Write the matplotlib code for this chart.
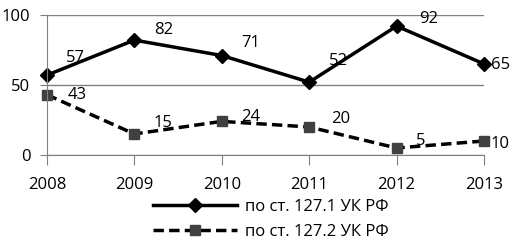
import matplotlib.pyplot as plt

years = ['2008', '2009', '2010', '2011', '2012', '2013']
s1 = [57, 82, 71, 52, 92, 65]
s2 = [43, 15, 24, 20, 5, 10]
names = ['по ст. 127.1 УК РФ', 'по ст. 127.2 УК РФ']

# label offsets in points (style only)
off1 = [(14, 12), (14, 7), (14, 9), (14, 15), (16, 5), (5, -1)]
off2 = [(15, 0), (14, 8), (14, 3), (16, 6), (14, 5), (5, -2)]

plt.rcParams['font.family'] = ['Open Sans', 'DejaVu Sans']

fig = plt.figure(figsize=(5.16, 2.48), dpi=100)
ax = fig.add_axes([0.091, 0.375, 0.847, 0.565])
x = list(range(len(years)))

ax.plot(x, s1, color='black', lw=2.5, marker='D', ms=7, mfc='black', label=names[0])
ax.plot(x, s2, color='black', lw=2.5, ls=(0, (3, 1.5)), marker='s', ms=7,
        mfc='#404040', mec='#404040', label=names[1])

for i in range(len(x)):
    ax.annotate(str(s1[i]), (x[i], s1[i]), xytext=off1[i], textcoords='offset points',
                fontsize=12, ha='left', va='center')
    ax.annotate(str(s2[i]), (x[i], s2[i]), xytext=off2[i], textcoords='offset points',
                fontsize=12, ha='left', va='center')

ax.set_xlim(0, len(x) - 1)
ax.set_ylim(0, 100)
ax.set_yticks([0, 50, 100])
ax.set_xticks(x)
ax.set_xticklabels(years)
ax.grid(axis='y', color='#808080', lw=1)
ax.set_axisbelow(True)
for s in ['top', 'right']:
    ax.spines[s].set_visible(False)
ax.spines['left'].set_color('#808080')
ax.spines['bottom'].set_color('#808080')
ax.tick_params(axis='y', length=5, color='#808080', labelsize=12, pad=7)
ax.tick_params(axis='x', length=7, color='#808080', labelsize=12, pad=9)
for ln in ax.lines:
    ln.set_clip_on(False)

fig.legend(loc='upper center', bbox_to_anchor=(0.525, 0.225), frameon=False,
           fontsize=12, handlelength=5, labelspacing=0.55, borderaxespad=0,
           handletextpad=0.5)
fig.savefig('out.png', dpi=100)
